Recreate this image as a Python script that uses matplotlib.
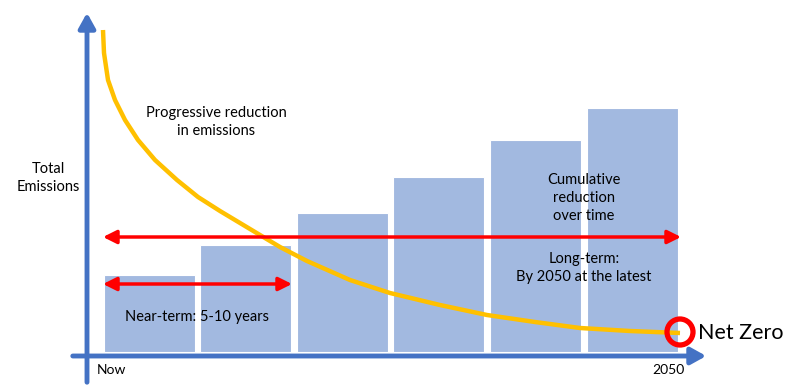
import matplotlib
matplotlib.use("Agg")
import matplotlib.pyplot as plt
from matplotlib.patches import FancyArrowPatch, Circle

plt.rcParams['font.family'] = ['Lato', 'DejaVu Sans']

# Canvas in pixel-like units (y up), origin bottom-left
W, H = 800, 389

# Bars (cumulative reduction)
bar_left = [104, 200, 297, 393, 490, 587]
bar_width = 91
bar_base = 37
bar_heights = [77, 107, 139, 175, 212, 244]

# Emission curve (progressive reduction)
curve_x = [103, 104, 108, 115, 125, 138, 155, 177, 198, 220, 240, 260, 280, 307, 350, 390, 440, 487, 535, 580, 630, 680]
curve_y = [359, 336, 309, 289, 269, 249, 229, 209, 192, 178, 166, 154, 142, 128, 109, 96, 84, 74, 67, 61, 58, 56]

BLUE_BAR = '#A2B9E0'
AXIS_BLUE = '#4472C4'
YELLOW = '#FFC000'
RED = '#FF0000'

fig = plt.figure(figsize=(8, 3.89), dpi=100)
ax = fig.add_axes([0, 0, 1, 1])
ax.set_xlim(0, W)
ax.set_ylim(0, H)
ax.axis('off')

ax.bar(bar_left, bar_heights, width=bar_width, bottom=bar_base, align='edge',
       color=BLUE_BAR, edgecolor='white', linewidth=0.8, zorder=1)

ax.plot(curve_x, curve_y, color=YELLOW, lw=3.2, solid_capstyle='butt',
        solid_joinstyle='round', zorder=3)

# Axes arrows
ax.add_patch(FancyArrowPatch((70, 33), (709, 33), arrowstyle='-|>,head_length=9,head_width=5',
                             color=AXIS_BLUE, lw=3.5, mutation_scale=1, zorder=4))
ax.add_patch(FancyArrowPatch((87, 4), (87, 379), arrowstyle='-|>,head_length=9,head_width=5',
                             color=AXIS_BLUE, lw=3.5, mutation_scale=1, zorder=4))

# Red arrows
ax.add_patch(FancyArrowPatch((103, 152), (681, 152), arrowstyle='<|-|>,head_length=8,head_width=4',
                             color=RED, lw=2.5, mutation_scale=1, zorder=5, shrinkA=0, shrinkB=0))
ax.add_patch(FancyArrowPatch((103, 105), (292, 105), arrowstyle='<|-|>,head_length=8,head_width=4',
                             color=RED, lw=2.5, mutation_scale=1, zorder=5, shrinkA=0, shrinkB=0))

# Net zero circle
ax.add_patch(Circle((680, 57), 13, fill=False, edgecolor=RED, lw=3.8, zorder=6))

fs = 10.5
ls = 1.4
ax.text(48, 211, 'Total\nEmissions', ha='center', va='center', fontsize=fs, linespacing=ls)
ax.text(216, 267, 'Progressive reduction\nin emissions', ha='center', va='center', fontsize=fs, linespacing=ls)
ax.text(584, 191, 'Cumulative\nreduction\nover time', ha='center', va='center', fontsize=fs, linespacing=ls)
ax.text(584, 121, 'Long-term:\nBy 2050 at the latest', ha='center', va='center', fontsize=fs, linespacing=ls)
ax.text(197, 72, 'Near-term: 5-10 years', ha='center', va='center', fontsize=fs)
ax.text(97, 19, 'Now', ha='left', va='center', fontsize=10)
ax.text(685, 19, '2050', ha='right', va='center', fontsize=10)
ax.text(698, 56, 'Net Zero', ha='left', va='center', fontsize=15.5)

fig.savefig('out.png', dpi=100)
